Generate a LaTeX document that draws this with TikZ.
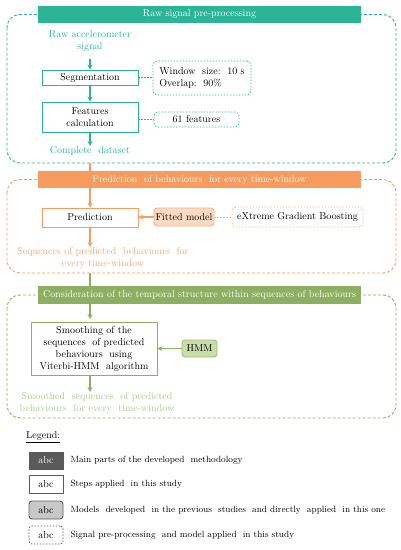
\documentclass[tikz,border=0pt]{standalone}
\usetikzlibrary{arrows.meta}
\definecolor{cgreen}{HTML}{2BB596}
\definecolor{corange}{HTML}{F79B5F}
\definecolor{colive}{HTML}{8FAF60}
\definecolor{torange}{HTML}{F7A574}
\definecolor{tolive}{HTML}{AFC78C}
\definecolor{forange}{HTML}{FCDAC4}
\definecolor{borange}{HTML}{F5B08A}
\definecolor{folive}{HTML}{CADDAA}
\definecolor{bolive}{HTML}{9DBD78}
\definecolor{dgrey}{HTML}{5A5A5A}
\definecolor{lgrey}{HTML}{C8C8C8}
\begin{document}
\begin{tikzpicture}[x=1pt,y=-1pt,
  font=\fontsize{10}{12}\selectfont,
  header/.style={fill=#1,draw=none,text=white},
  region/.style={draw=#1,line width=0.9pt,dash pattern=on 3pt off 2pt,rounded corners=13pt},
  stepbox/.style={draw=#1,line width=0.9pt,fill=white,inner sep=0pt,align=center},
  dotbox/.style={draw=#1,line width=0.8pt,dash pattern=on 1.5pt off 1.5pt,rounded corners=4pt,inner sep=0pt,align=center},
  modelbox/.style={inner sep=0pt,rounded corners=3pt,line width=0.9pt,align=center},
  flow/.style={draw=#1,line width=1.5pt,-{Stealth[length=5pt,width=5pt]}},
  dotline/.style={draw=#1,line width=0.8pt,dash pattern=on 1.5pt off 1.5pt},
  legtext/.style={anchor=west,font=\fontsize{9}{11}\selectfont}
]
\useasboundingbox (0,0) rectangle (401,550);
% ---------- Section 1 ----------
\draw[region=cgreen] (7,14.5) rectangle (396,163);
\node[header=cgreen,minimum width=323pt,minimum height=17pt,inner sep=0pt] (h1) at (199.5,14.5) {Raw signal pre-processing};
\node[text=cgreen,align=center] (raw) at (90,41.5) {Raw accelerometer\\signal};
\node[stepbox=cgreen,minimum width=96pt,minimum height=15pt] (seg) at (90,77.5) {Segmentation};
\node[dotbox=cgreen,minimum width=98pt,minimum height=34pt,align=left] (win) at (202,78) {Window\ \ size:\ \ 10 s\\Overlap:\ \ 90\%};
\node[stepbox=cgreen,minimum width=96pt,minimum height=30pt] (feat) at (90,117) {Features\\calculation};
\node[dotbox=cgreen,minimum width=85pt,minimum height=15pt] (f61) at (196.5,119.5) {61 features};
\node[text=cgreen] (cds) at (90,151) {Complete\ \ dataset};
\draw[flow=cgreen] (raw.south) ++(0,3) coordinate (r1) -- (seg.north);
\draw[flow=cgreen] (seg) -- (feat);
\draw[flow=cgreen] (feat.south) -- ([yshift=-3pt]cds.north);
\draw[dotline=cgreen] (seg.east) -- (win.west|-seg.east);
\draw[dotline=cgreen] (feat.east|-f61.west) -- (f61.west);
% ---------- Section 2 ----------
\coordinate (g1) at (90,163);
\draw[region=corange] (7,179.5) rectangle (396,273);
\node[header=corange,minimum width=323pt,minimum height=17pt,inner sep=0pt] (h2) at (199.5,179.5) {Prediction\ \ of behaviours\ \ for every time-window};
\draw[draw=corange,line width=1.5pt] (g1) -- (g1|-h2.north);
\node[stepbox=corange,minimum width=96pt,minimum height=19pt] (pred) at (90,217.5) {Prediction};
\node[modelbox,fill=forange,draw=borange,minimum width=60pt,minimum height=18pt] (fit) at (184,217) {Fitted model};
\node[dotbox=borange,minimum width=131pt,minimum height=20pt] (xgb) at (297.5,217) {eXtreme Gradient Boosting};
\node[text=torange,align=center] (seq) at (103,258) {Sequences\ of predicted\ \ behaviours\ \ for\\every time-window};
\draw[flow=corange] (h2.south-|pred.north) -- (pred.north);
\draw[flow=corange] (fit.west) -- (pred.east|-fit.west);
\draw[dotline=borange] (fit.east) -- (xgb.west|-fit.east);
\draw[flow=corange] (pred.south) -- (90,247);
% ---------- Section 3 ----------
\coordinate (o1) at (90,273);
\draw[region=colive] (7,295) rectangle (396,418);
\node[header=colive,minimum width=323pt,minimum height=18pt,inner sep=0pt] (h3) at (199.5,295) {Consideration of the temporal structure within sequences of behaviours};
\draw[draw=colive,line width=1.5pt] (o1) -- (o1|-h3.north);
\node[stepbox=colive,minimum width=126pt,minimum height=53pt] (smo) at (94,348.5) {Smoothing of the\\sequences\ \ of predicted\\behaviours\ \ using\\Viterbi-HMM\ \ algorithm};
\node[modelbox,fill=folive,draw=bolive,minimum width=35pt,minimum height=17pt] (hmm) at (199.5,348.5) {HMM};
\node[text=tolive,align=center] (smd) at (97,402.5) {Smoothed\ \ sequences\ \ of predicted\\behaviours\ \ for every\ \ time-window};
\draw[flow=colive] (h3.south-|90,0) -- (90,319);
\draw[flow=colive] (hmm.west) -- (smo.east|-hmm.west);
\draw[flow=colive] (90,375) -- (90,392);
% ---------- Legend ----------
\node[anchor=west,inner sep=0pt] (leg) at (26,437) {\underline{Legend:}};
\node[fill=dgrey,draw=dgrey,minimum width=34pt,minimum height=17pt,inner sep=0pt,text=white] (l1) at (46,460.5) {abc};
\node[draw=dgrey,line width=0.9pt,minimum width=34pt,minimum height=18pt,inner sep=0pt] (l2) at (46,484) {abc};
\node[draw=dgrey,fill=lgrey,line width=0.9pt,rounded corners=3pt,minimum width=34pt,minimum height=18pt,inner sep=0pt] (l3) at (46,510) {abc};
\node[draw=dgrey,line width=0.7pt,dash pattern=on 1.5pt off 1.5pt,rounded corners=3pt,minimum width=34pt,minimum height=18pt,inner sep=0pt] (l4) at (46,535) {abc};
\node[legtext] (t1) at (67,460.5) {Main parts of the developed\ \ methodology};
\node[legtext] (t2) at (67,484) {Steps applied\ \ in this study};
\node[legtext] (t3) at (67,510) {Models\ \ developed\ \ in the previous\ \ studies\ \ and directly\ \ applied\ \ in this one};
\node[legtext] (t4) at (67,535) {Signal pre-processing\ \ and model applied\ \ in this study};
\end{tikzpicture}
\end{document}
